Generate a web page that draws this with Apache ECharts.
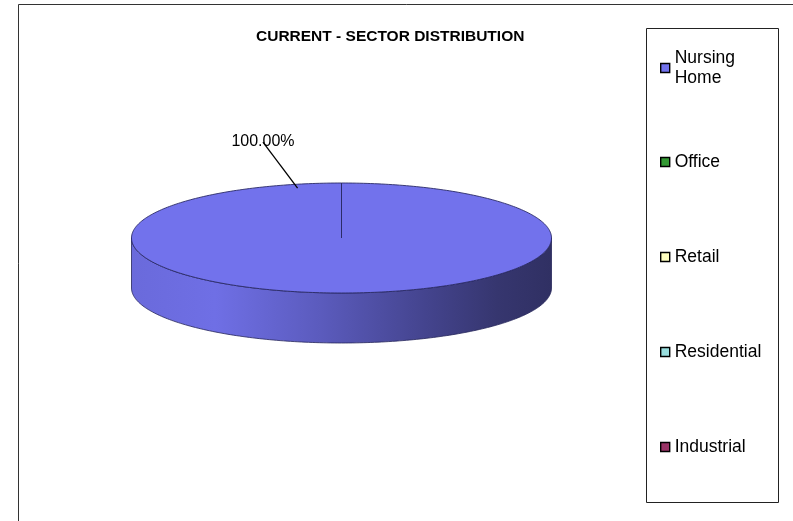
<!DOCTYPE html>
<html><head><meta charset="utf-8">
<script src="https://cdn.jsdelivr.net/npm/echarts@6/dist/echarts.min.js"></script>
<style>html,body{margin:0;padding:0;background:#fff}#c{width:793px;height:521px}</style>
</head><body><div id="c"></div>
<script>
// ---- data ----
const chartTitle = 'CURRENT - SECTOR DISTRIBUTION';
const categories = ['Nursing Home', 'Office', 'Retail', 'Residential', 'Industrial'];
const legendLabels = ['Nursing\nHome', 'Office', 'Retail', 'Residential', 'Industrial'];
const values = [100, 0, 0, 0, 0];

// ---- styles / layout ----
const colors = ['#7272ec', '#339933', '#ffffc0', '#99dede', '#993366'];
const FONT = '"Liberation Sans", Arial, Helvetica, sans-serif';
const P = { cx: 341.5, cy: 238, rx: 210, ry: 55, depth: 50,
            labelAngle: -13, labelR: 0.93, labelDx: -34.6, labelDy: -46 };
const L = { left: 660, itemY: [68, 162, 257, 352, 447], lineH: 20 };

const total = values.reduce((a, b) => a + b, 0);

function ellPt(th, r, dy) {
  const a = th * Math.PI / 180;
  return [P.cx + P.rx * r * Math.sin(a), P.cy - P.ry * r * Math.cos(a) + (dy || 0)];
}
function arcPts(a0, a1, dy) {
  const n = Math.max(2, Math.ceil(Math.abs(a1 - a0)));
  const pts = [];
  for (let k = 0; k <= n; k++) pts.push(ellPt(a0 + (a1 - a0) * k / n, 1, dy));
  return pts;
}
function shade(hex, f) {
  const n = parseInt(hex.slice(1), 16);
  const r = Math.round(((n >> 16) & 255) * f), g = Math.round(((n >> 8) & 255) * f), b = Math.round((n & 255) * f);
  return 'rgb(' + r + ',' + g + ',' + b + ')';
}
function sideGrad(hex) {
  return { type: 'linear', global: true, x: P.cx - P.rx, y: 0, x2: P.cx + P.rx, y2: 0,
    colorStops: [
      { offset: 0, color: shade(hex, 0.93) },
      { offset: 0.2, color: shade(hex, 0.97) },
      { offset: 0.45, color: shade(hex, 0.8) },
      { offset: 0.7, color: shade(hex, 0.6) },
      { offset: 0.87, color: shade(hex, 0.47) },
      { offset: 1, color: shade(hex, 0.42) }
    ] };
}

function makeRender(i) {
  return function (params, api) {
    const v = api.value(0);
    if (!(v > 0)) return { type: 'group', children: [] };
    let cum = 0;
    for (let j = 0; j < i; j++) cum += values[j];
    const a0 = cum / total * 360, a1 = (cum + v) / total * 360;
    const children = [];
    const s = Math.max(a0, 90), e = Math.min(a1, 270);
    if (e > s) {
      children.push({ type: 'polygon', z2: 1,
        shape: { points: arcPts(s, e, 0).concat(arcPts(e, s, P.depth)) },
        style: { fill: sideGrad(colors[i]), stroke: '#26265a', lineWidth: 0.8 } });
    }
    children.push({ type: 'polygon', z2: 10,
      shape: { points: [[P.cx, P.cy]].concat(arcPts(a0, a1, 0)) },
      style: { fill: colors[i], stroke: '#2a2a66', lineWidth: 0.9 } });
    const anc = ellPt(P.labelAngle, P.labelR, 0);
    const end = [anc[0] + P.labelDx, anc[1] + P.labelDy];
    children.push({ type: 'text', z2: 20,
      style: { text: (v / total * 100).toFixed(2) + '%', x: end[0], y: end[1] - 1,
               align: 'center', verticalAlign: 'middle', fontSize: 16, fontFamily: FONT, fill: '#000' } });
    children.push({ type: 'line', z2: 21,
      shape: { x1: anc[0], y1: anc[1], x2: end[0], y2: end[1] },
      style: { stroke: '#000', lineWidth: 1.3 } });
    return { type: 'group', children };
  };
}

const chart = echarts.init(document.getElementById('c'), null, { renderer: 'canvas' });
chart.setOption({
  animation: false,
  backgroundColor: '#fff',
  title: { text: chartTitle, left: 256, top: 29, padding: 0,
    textStyle: { fontSize: 15.5, fontWeight: 'bold', fontFamily: FONT, color: '#000' } },
  legend: categories.map((name, i) => ({
    data: [name], orient: 'vertical', left: L.left,
    top: L.itemY[i] - (i === 0 ? 1.5 * L.lineH : L.lineH / 2),
    padding: 0, itemWidth: 9, itemHeight: 9, itemGap: 0, icon: 'rect', selectedMode: false,
    itemStyle: { borderColor: '#000', borderWidth: 1.4 },
    formatter: () => legendLabels[i],
    textStyle: { fontSize: 17.5, lineHeight: L.lineH, color: '#000', fontFamily: FONT,
                 padding: i === 0 ? [L.lineH, 0, 0, 0] : 0 }
  })),
  graphic: [
    { type: 'rect', silent: true, shape: { x: 18.5, y: 4.5, width: 800, height: 600 },
      style: { fill: 'none', stroke: '#333', lineWidth: 1 } },
    { type: 'rect', silent: true, shape: { x: 646.5, y: 28.5, width: 132, height: 474 },
      style: { fill: 'none', stroke: '#222', lineWidth: 1 } }
  ],
  series: categories.map((name, i) => ({
    type: 'custom', name, coordinateSystem: 'none', silent: true,
    itemStyle: { color: colors[i] },
    renderItem: makeRender(i),
    data: [[values[i]]]
  }))
});
</script>
</body></html>
